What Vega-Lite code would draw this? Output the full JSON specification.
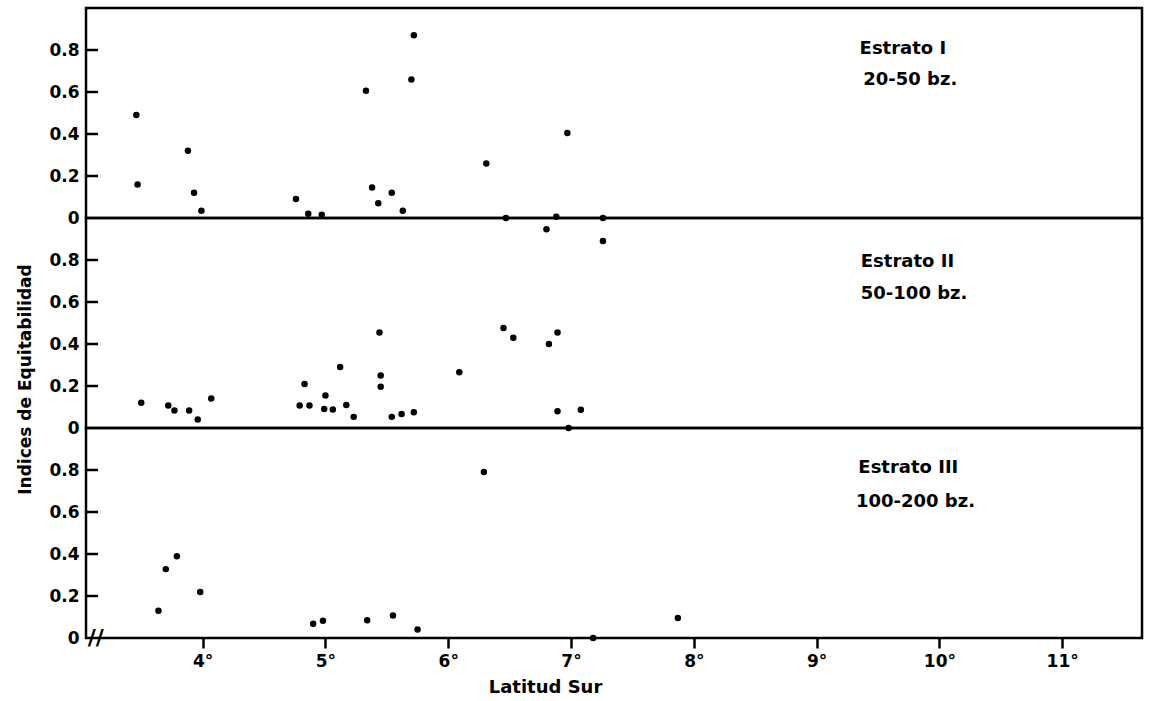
{
  "$schema": "https://vega.github.io/schema/vega-lite/v6.json",
  "background": "white",
  "padding": {"left": 14, "top": 6, "right": 5, "bottom": 5},
  "spacing": 0,
  "bounds": "flush",
  "config": {
    "font": "DejaVu Sans",
    "view": {"stroke": "black", "strokeWidth": 2.5},
    "axis": {"grid": false, "labelColor": "black", "titleColor": "black", "labelFontWeight": "bold", "titleFontWeight": "bold", "labelFont": "DejaVu Sans", "titleFont": "DejaVu Sans"}
  },
  "datasets": {
    "one": [{"k": 1}],
    "yt": [{"v": 0.2}, {"v": 0.4}, {"v": 0.6}, {"v": 0.8}],
    "pts": [
      {"estrato": "I", "lat": 3.46, "eq": 0.49},
      {"estrato": "I", "lat": 3.47, "eq": 0.16},
      {"estrato": "I", "lat": 3.88, "eq": 0.32},
      {"estrato": "I", "lat": 3.93, "eq": 0.12},
      {"estrato": "I", "lat": 3.99, "eq": 0.035},
      {"estrato": "I", "lat": 4.76, "eq": 0.09},
      {"estrato": "I", "lat": 4.86, "eq": 0.02},
      {"estrato": "I", "lat": 4.97, "eq": 0.016},
      {"estrato": "I", "lat": 5.33, "eq": 0.606},
      {"estrato": "I", "lat": 5.38, "eq": 0.145},
      {"estrato": "I", "lat": 5.43, "eq": 0.07},
      {"estrato": "I", "lat": 5.54, "eq": 0.12},
      {"estrato": "I", "lat": 5.63, "eq": 0.035},
      {"estrato": "I", "lat": 5.70, "eq": 0.66},
      {"estrato": "I", "lat": 5.72, "eq": 0.87},
      {"estrato": "I", "lat": 6.31, "eq": 0.26},
      {"estrato": "I", "lat": 6.47, "eq": 0.0},
      {"estrato": "I", "lat": 6.88, "eq": 0.006},
      {"estrato": "I", "lat": 6.97, "eq": 0.405},
      {"estrato": "I", "lat": 7.26, "eq": 0.0},
      {"estrato": "II", "lat": 3.50, "eq": 0.12},
      {"estrato": "II", "lat": 3.72, "eq": 0.107},
      {"estrato": "II", "lat": 3.77, "eq": 0.083},
      {"estrato": "II", "lat": 3.89, "eq": 0.083},
      {"estrato": "II", "lat": 3.96, "eq": 0.04},
      {"estrato": "II", "lat": 4.07, "eq": 0.14},
      {"estrato": "II", "lat": 4.79, "eq": 0.107},
      {"estrato": "II", "lat": 4.83, "eq": 0.21},
      {"estrato": "II", "lat": 4.87, "eq": 0.107},
      {"estrato": "II", "lat": 4.99, "eq": 0.09},
      {"estrato": "II", "lat": 5.00, "eq": 0.155},
      {"estrato": "II", "lat": 5.06, "eq": 0.088},
      {"estrato": "II", "lat": 5.12, "eq": 0.29},
      {"estrato": "II", "lat": 5.17, "eq": 0.11},
      {"estrato": "II", "lat": 5.23, "eq": 0.053},
      {"estrato": "II", "lat": 5.44, "eq": 0.455},
      {"estrato": "II", "lat": 5.45, "eq": 0.25},
      {"estrato": "II", "lat": 5.45, "eq": 0.196},
      {"estrato": "II", "lat": 5.54, "eq": 0.053},
      {"estrato": "II", "lat": 5.62, "eq": 0.067},
      {"estrato": "II", "lat": 5.72, "eq": 0.075},
      {"estrato": "II", "lat": 6.09, "eq": 0.265},
      {"estrato": "II", "lat": 6.45, "eq": 0.476},
      {"estrato": "II", "lat": 6.53, "eq": 0.43},
      {"estrato": "II", "lat": 6.80, "eq": 0.946},
      {"estrato": "II", "lat": 6.82, "eq": 0.40},
      {"estrato": "II", "lat": 6.89, "eq": 0.455},
      {"estrato": "II", "lat": 6.89, "eq": 0.08},
      {"estrato": "II", "lat": 6.98, "eq": 0.0},
      {"estrato": "II", "lat": 7.08, "eq": 0.087},
      {"estrato": "II", "lat": 7.26, "eq": 0.89},
      {"estrato": "III", "lat": 3.64, "eq": 0.13},
      {"estrato": "III", "lat": 3.70, "eq": 0.328},
      {"estrato": "III", "lat": 3.79, "eq": 0.389},
      {"estrato": "III", "lat": 3.98, "eq": 0.219},
      {"estrato": "III", "lat": 4.90, "eq": 0.068},
      {"estrato": "III", "lat": 4.98, "eq": 0.082},
      {"estrato": "III", "lat": 5.34, "eq": 0.084},
      {"estrato": "III", "lat": 5.55, "eq": 0.107},
      {"estrato": "III", "lat": 5.75, "eq": 0.041},
      {"estrato": "III", "lat": 6.29, "eq": 0.79},
      {"estrato": "III", "lat": 7.18, "eq": 0.0},
      {"estrato": "III", "lat": 7.87, "eq": 0.095}
    ]
  },
  "vconcat": [
    {
      "width": 1056,
      "height": 210,
      "layer": [
        {
          "data": {"name": "pts"},
          "transform": [{"filter": "datum.estrato == 'I'"}],
          "mark": {"type": "point", "filled": true, "color": "black", "opacity": 1, "size": 42},
          "encoding": {
            "x": {"field": "lat", "type": "quantitative", "scale": {"domain": [3.05, 11.65], "nice": false, "zero": false}, "axis": null},
            "y": {"field": "eq", "type": "quantitative", "scale": {"domain": [0, 1], "nice": false},
              "axis": {"values": [0, 0.2, 0.4, 0.6, 0.8], "format": ".1~f", "domain": false, "ticks": false, "labelPadding": 7, "labelFontSize": 17, "title": null}}
          }
        },
        {
          "data": {"name": "yt"},
          "mark": {"type": "rule", "color": "black", "strokeWidth": 2.5},
          "encoding": {"x": {"datum": 3.05, "type": "quantitative"}, "x2": {"datum": 3.148}, "y": {"field": "v", "type": "quantitative"}}
        },
        {
          "data": {"name": "one"},
          "mark": {"type": "text", "align": "left", "baseline": "middle", "fontSize": 18, "fontWeight": "bold", "color": "black"},
          "encoding": {"x": {"datum": 9.35, "type": "quantitative"}, "y": {"datum": 0.805, "type": "quantitative"}, "text": {"value": "Estrato I"}}
        },
        {
          "data": {"name": "one"},
          "mark": {"type": "text", "align": "left", "baseline": "middle", "fontSize": 18, "fontWeight": "bold", "color": "black"},
          "encoding": {"x": {"datum": 9.38, "type": "quantitative"}, "y": {"datum": 0.657, "type": "quantitative"}, "text": {"value": "20-50 bz."}}
        }
      ]
    },
    {
      "width": 1056,
      "height": 210,
      "layer": [
        {
          "data": {"name": "pts"},
          "transform": [{"filter": "datum.estrato == 'II'"}],
          "mark": {"type": "point", "filled": true, "color": "black", "opacity": 1, "size": 42},
          "encoding": {
            "x": {"field": "lat", "type": "quantitative", "scale": {"domain": [3.05, 11.65], "nice": false, "zero": false}, "axis": null},
            "y": {"field": "eq", "type": "quantitative", "scale": {"domain": [0, 1], "nice": false},
              "axis": {"values": [0, 0.2, 0.4, 0.6, 0.8], "format": ".1~f", "domain": false, "ticks": false, "labelPadding": 7, "labelFontSize": 17,
                "title": "Indices de Equitabilidad", "titleFontSize": 17, "titleX": -61, "titleY": 161, "titleAlign": "center", "titleBaseline": "middle", "titleAngle": 270}}
          }
        },
        {
          "data": {"name": "yt"},
          "mark": {"type": "rule", "color": "black", "strokeWidth": 2.5},
          "encoding": {"x": {"datum": 3.05, "type": "quantitative"}, "x2": {"datum": 3.148}, "y": {"field": "v", "type": "quantitative"}}
        },
        {
          "data": {"name": "one"},
          "mark": {"type": "text", "align": "left", "baseline": "middle", "fontSize": 18, "fontWeight": "bold", "color": "black"},
          "encoding": {"x": {"datum": 9.36, "type": "quantitative"}, "y": {"datum": 0.79, "type": "quantitative"}, "text": {"value": "Estrato II"}}
        },
        {
          "data": {"name": "one"},
          "mark": {"type": "text", "align": "left", "baseline": "middle", "fontSize": 18, "fontWeight": "bold", "color": "black"},
          "encoding": {"x": {"datum": 9.36, "type": "quantitative"}, "y": {"datum": 0.64, "type": "quantitative"}, "text": {"value": "50-100 bz."}}
        }
      ]
    },
    {
      "width": 1056,
      "height": 210,
      "layer": [
        {
          "data": {"name": "pts"},
          "transform": [{"filter": "datum.estrato == 'III'"}],
          "mark": {"type": "point", "filled": true, "color": "black", "opacity": 1, "size": 42},
          "encoding": {
            "x": {"field": "lat", "type": "quantitative", "scale": {"domain": [3.05, 11.65], "nice": false, "zero": false},
              "axis": {"values": [4, 5, 6, 7, 8, 9, 10, 11], "labelExpr": "datum.value + '°'", "domain": false, "tickSize": 10, "tickWidth": 2.5, "tickColor": "black", "labelPadding": 5, "labelFontSize": 17, "labelFlush": false,
                "title": "Latitud Sur", "titleFontSize": 18, "titleX": 459, "titlePadding": 9}},
            "y": {"field": "eq", "type": "quantitative", "scale": {"domain": [0, 1], "nice": false},
              "axis": {"values": [0, 0.2, 0.4, 0.6, 0.8], "format": ".1~f", "domain": false, "ticks": false, "labelPadding": 7, "labelFontSize": 17, "title": null}}
          }
        },
        {
          "data": {"name": "yt"},
          "mark": {"type": "rule", "color": "black", "strokeWidth": 2.5},
          "encoding": {"x": {"datum": 3.05, "type": "quantitative"}, "x2": {"datum": 3.148}, "y": {"field": "v", "type": "quantitative"}}
        },
        {
          "data": {"name": "one"},
          "mark": {"type": "text", "align": "center", "baseline": "middle", "fontSize": 22, "fontWeight": "bold", "color": "black"},
          "encoding": {"x": {"datum": 3.13, "type": "quantitative"}, "y": {"datum": 0, "type": "quantitative"}, "text": {"value": "//"}}
        },
        {
          "data": {"name": "one"},
          "mark": {"type": "text", "align": "left", "baseline": "middle", "fontSize": 18, "fontWeight": "bold", "color": "black"},
          "encoding": {"x": {"datum": 9.34, "type": "quantitative"}, "y": {"datum": 0.81, "type": "quantitative"}, "text": {"value": "Estrato III"}}
        },
        {
          "data": {"name": "one"},
          "mark": {"type": "text", "align": "left", "baseline": "middle", "fontSize": 18, "fontWeight": "bold", "color": "black"},
          "encoding": {"x": {"datum": 9.32, "type": "quantitative"}, "y": {"datum": 0.65, "type": "quantitative"}, "text": {"value": "100-200 bz."}}
        }
      ]
    }
  ]
}
